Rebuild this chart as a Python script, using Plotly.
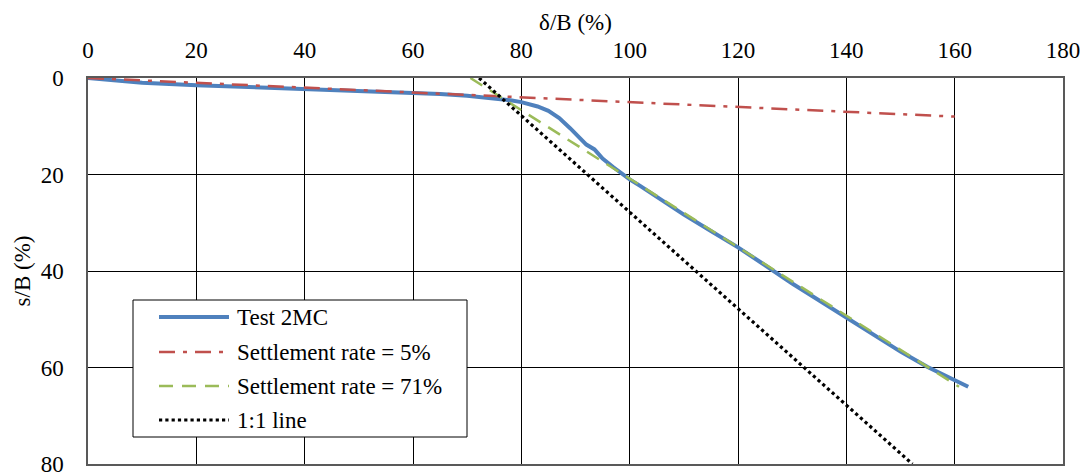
import plotly.graph_objects as go

# ---- data ----
test_x = [0, 5, 10, 20, 30, 40, 50, 60, 65, 70, 75, 78, 80, 83, 85, 87, 89, 91, 92, 93.5,
          95, 97, 100, 102, 105, 110, 115, 120, 125, 130, 135, 140, 145, 150, 155, 160, 162.5]
test_y = [0, 0.6, 1.0, 1.5, 1.9, 2.3, 2.6, 3.0, 3.3, 3.7, 4.2, 4.6, 5.0, 5.9, 6.8, 8.3, 10.4,
          12.6, 13.8, 14.8, 16.7, 18.5, 21.0, 22.4, 24.7, 28.3, 31.7, 35.1, 38.8, 42.6, 46.1,
          49.7, 53.2, 56.7, 59.9, 62.6, 64.0]
rate5_x = [0, 160]
rate5_y = [0, 8]
rate71_x = [70.6, 160.8]
rate71_y = [0, 64]
one_x = [72.2, 152.2]
one_y = [0, 80]

x_ticks = [0, 20, 40, 60, 80, 100, 120, 140, 160, 180]
y_ticks = [0, 20, 40, 60, 80]

names = ["Test 2MC", "Settlement rate = 5%", "Settlement rate = 71%", "1:1 line"]
colors = ["#4F81BD", "#C0504D", "#9BBB59", "#000000"]
widths = [4, 2.5, 2.5, 3.2]
dashes = ["solid", "16px,8px,4px,8px", "14px,9px", "3.2px,3.1px"]

FONT = "Liberation Serif"

fig = go.Figure()
series = [(test_x, test_y), (rate5_x, rate5_y), (rate71_x, rate71_y), (one_x, one_y)]
for (xs, ys), n, c, w, d in zip(series, names, colors, widths, dashes):
    fig.add_trace(go.Scatter(x=xs, y=ys, mode="lines", name=n, showlegend=False,
                             line=dict(color=c, width=w, dash=d)))

# plot area in pixels
L, R, T, B = 88, 1063, 78, 464
W, H = 1092, 475


def fx(px):
    return (px - L) / (R - L)


def fy(py):
    return (B - py) / (B - T)


shapes = []
annotations = []
# custom legend box
shapes.append(dict(type="rect", xref="paper", yref="paper", x0=fx(133), x1=fx(467),
                   y0=fy(437), y1=fy(300), line=dict(color="#000000", width=1),
                   fillcolor="white", layer="above"))
rows = [317, 352, 386, 420]
for ry, n, c, w, d in zip(rows, names, colors, widths, dashes):
    shapes.append(dict(type="line", xref="paper", yref="paper", x0=fx(159), x1=fx(229),
                       y0=fy(ry), y1=fy(ry), line=dict(color=c, width=w, dash=d),
                       layer="above"))
    annotations.append(dict(xref="paper", yref="paper", x=fx(235), y=fy(ry), text=n,
                            showarrow=False, xanchor="left", yanchor="middle",
                            font=dict(family=FONT, size=23, color="black")))

fig.update_layout(
    width=W, height=H,
    margin=dict(l=L, r=W - R, t=T, b=H - B),
    paper_bgcolor="white", plot_bgcolor="white",
    font=dict(family=FONT, size=23, color="black"),
    shapes=shapes, annotations=annotations,
    xaxis=dict(side="top", range=[0, 180], tickvals=x_ticks, showgrid=True,
               gridcolor="#000000", gridwidth=1, zeroline=False, showline=True,
               mirror=True, linecolor="#595959", linewidth=1.5, ticks="",
               ticklabelstandoff=9, automargin=False, ticklabeloverflow="allow",
               title=dict(text="δ/B (%)", standoff=1, font=dict(family=FONT, size=23))),
    yaxis=dict(range=[80, 0], tickvals=y_ticks, showgrid=True, gridcolor="#000000",
               gridwidth=1, zeroline=False, showline=True, mirror=True,
               linecolor="#595959", linewidth=1.5, ticks="", ticklabelstandoff=18,
               automargin=False, ticklabeloverflow="allow",
               title=dict(text="s/B (%)", standoff=4, font=dict(family=FONT, size=23))),
)

fig.write_html("out.html", config={"displayModeBar": False},
               post_script="document.body.style.margin='0';")
